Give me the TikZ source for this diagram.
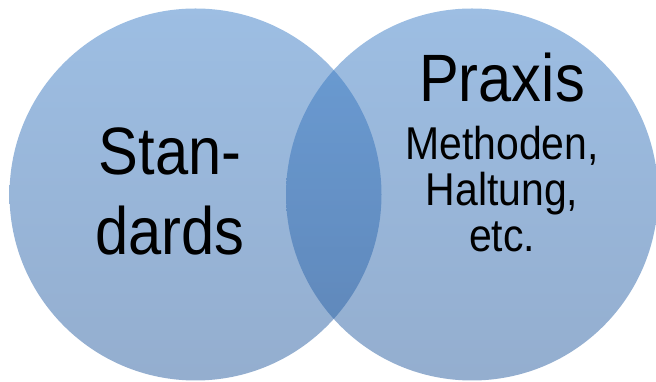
\documentclass[tikz,border=0pt]{standalone}
\usepackage{fontspec}
\newfontfamily\vennfont[FakeStretch=0.89]{Liberation Sans}
\usetikzlibrary{positioning}
\definecolor{venntop}{RGB}{59,125,199}
\definecolor{vennbottom}{RGB}{41,93,159}

\begin{document}
\begin{tikzpicture}[x=1pt,y=1pt,
    venn/.style={circle, minimum size=372pt, inner sep=0pt, top color=venntop, bottom color=vennbottom, fill opacity=0.5},
    bigtext/.style={inner sep=0pt, align=center, font=\vennfont\fontsize{67}{80}\selectfont},
    smalltext/.style={inner sep=0pt, align=center, font=\vennfont\fontsize{46}{46}\selectfont}]
    \useasboundingbox (0,0) rectangle (656,382);
    \node[venn](standardscircle) at (195.5,187.5){};
    \node[venn](praxiscircle) at (472,187.5){};
    \node[bigtext, anchor=base](standards) at (170,127){Stan-\\dards};
    \node[bigtext, anchor=base](praxis) at (502,280){Praxis};
    \node[smalltext, below=150pt of praxis.base, anchor=base](details){Methoden,\\Haltung,\\etc.};
\end{tikzpicture}
\end{document}
